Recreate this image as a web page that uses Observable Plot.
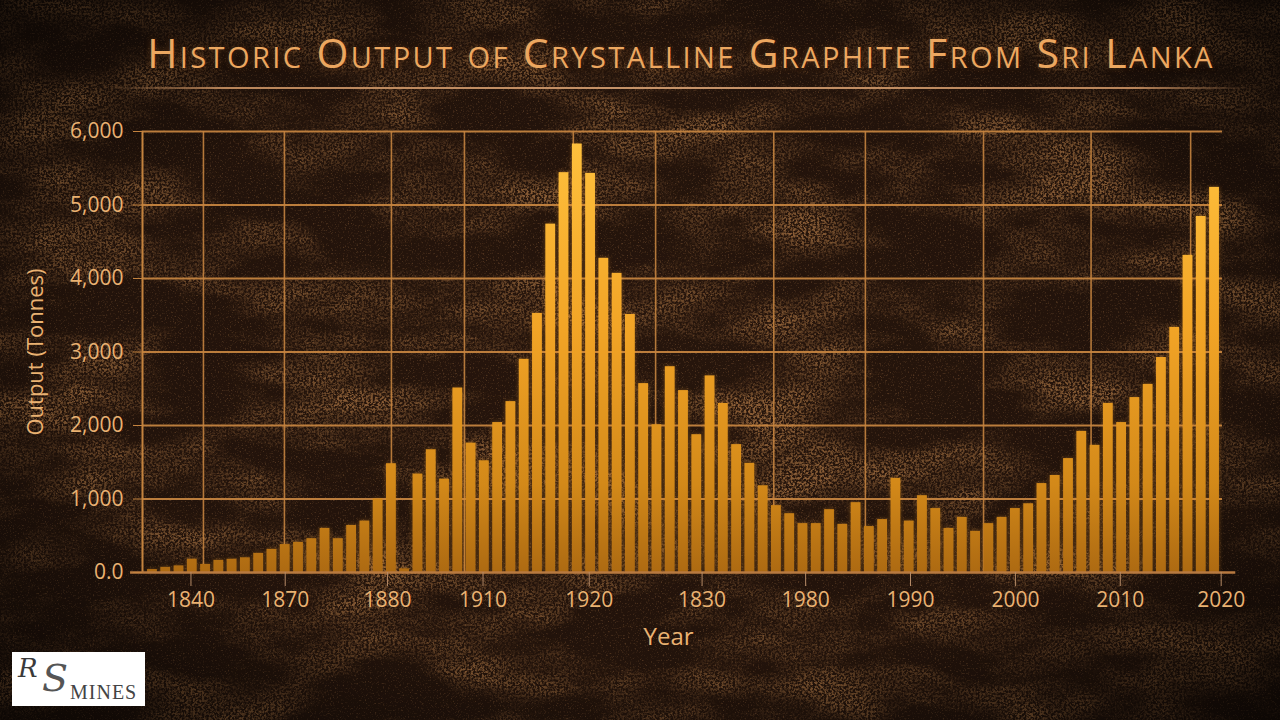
<!DOCTYPE html>
<html>
<head>
<meta charset="utf-8">
<script src="https://cdn.jsdelivr.net/npm/d3@7"></script>
<script src="https://cdn.jsdelivr.net/npm/@observablehq/plot@0.6"></script>
<style>
  html, body { margin: 0; padding: 0; background: #160d08; }
  #stage { position: relative; width: 1280px; height: 720px; overflow: hidden; background: #1f130c; }
  #bg { position: absolute; left: 0; top: 0; }
  #title {
    position: absolute; left: 60px; top: 24px; width: 1242px; text-align: center;
    font-family: "Open Sans", Lato, sans-serif; font-variant: small-caps; font-size: 41px;
    color: #eca760; letter-spacing: 2.4px; white-space: nowrap;
    text-shadow: 0 0 6px rgba(255,150,60,0.25);
  }
  #rule {
    position: absolute; left: 110px; top: 87px; width: 1140px; height: 2px;
    background: linear-gradient(90deg, rgba(176,122,74,0) 0%, #b9855a 10%, #c7946a 50%, #b9855a 90%, rgba(176,122,74,0) 100%);
  }
  #chart { position: absolute; left: 0; top: 100px; }
  #logo {
    position: absolute; left: 12px; top: 652px; width: 133px; height: 54px; background: #ffffff;
    font-family: "DejaVu Serif", "Liberation Serif", serif; color: #3a3a3a;
  }
  #logo .r { position: absolute; left: 6px; top: 1px; font-style: italic; font-size: 26px; line-height: 30px; }
  #logo .s { position: absolute; left: 30px; top: 4px; font-style: italic; font-size: 38px; line-height: 44px; color: #555; }
  #logo .m { position: absolute; left: 58px; top: 28px; font-family: "Liberation Serif", serif; font-size: 20px; line-height: 24px; letter-spacing: 1px; color: #444; }
</style>
</head>
<body>
<div id="stage">
  <svg id="bg" width="1280" height="720">
    <defs>
      <filter id="tex" x="0" y="0" width="100%" height="100%">
        <feTurbulence type="fractalNoise" baseFrequency="0.007 0.018" numOctaves="4" seed="7" result="low"/>
        <feColorMatrix in="low" type="matrix" values="0 0 0 0 0  0 0 0 0 0  0 0 0 0 0  3 0 0 0 -1.25" result="lowA"/>
        <feTurbulence type="fractalNoise" baseFrequency="0.45" numOctaves="3" seed="2" result="hi"/>
        <feColorMatrix in="hi" type="matrix" values="0 0 0 0 0.5  0 0 0 0 0.22  0 0 0 0 0.07  0 0 0 4 -1.6" result="hiC"/>
        <feComposite in="hiC" in2="lowA" operator="in"/>
      </filter>
      <filter id="speck" x="0" y="0" width="100%" height="100%">
        <feTurbulence type="fractalNoise" baseFrequency="0.6" numOctaves="2" seed="5"/>
        <feColorMatrix type="matrix" values="0 0 0 0 0.45  0 0 0 0 0.2  0 0 0 0 0.07  0 0 0 4 -2.3"/>
      </filter>
      <radialGradient id="vig" cx="50%" cy="50%" r="72%">
        <stop offset="0%" stop-color="#000" stop-opacity="0"/>
        <stop offset="60%" stop-color="#000" stop-opacity="0.12"/>
        <stop offset="100%" stop-color="#000" stop-opacity="0.7"/>
      </radialGradient>
    </defs>
    <rect width="1280" height="720" fill="#26150c"/>
    <rect width="1280" height="720" filter="url(#tex)" opacity="0.7"/>
    <rect width="1280" height="720" filter="url(#speck)" opacity="0.35"/>
    <rect width="1280" height="720" fill="url(#vig)"/>
  </svg>
  <div id="title">Historic Output of Crystalline Graphite From Sri Lanka</div>
  <div id="rule"></div>
  <div id="chart"></div>
  <div id="logo"><span class="r">R</span><span class="s">S</span><span class="m">MINES</span></div>
</div>
<script>
// Bar values (tonnes), read left to right from the picture
const barValues = [
  40, 70, 90, 180, 110, 165, 180, 200, 260, 315,
  380, 410, 460, 600, 460, 640, 700, 1000, 1480, 50,
  1340, 1670, 1270, 2510, 1760, 1520, 2040, 2325, 2900, 3525,
  4740, 5440, 5830, 5430, 4275, 4070, 3510, 2570, 2010, 2800,
  2475, 1875, 2675, 2300, 1740, 1485, 1180, 910, 800, 665,
  665, 855, 655, 950, 625, 720, 1280, 700, 1045, 870,
  600, 750, 560, 665, 750, 870, 935, 1210, 1320, 1550,
  1920, 1730, 2300, 2040, 2380, 2560, 2925, 3335, 4315, 4845,
  5240
];
const barIndex = barValues.map((_, k) => k + 1);

// X tick labels as printed, and where they sit along the bar sequence
const tickLabels = ["1840", "1870", "1880", "1910", "1920", "1830", "1980", "1990", "2000", "2010", "2020"];
const tickPositions = [3.9, 11, 18.7, 25.9, 33.9, 42.4, 50.2, 58.1, 66, 73.9, 81.5];
// Vertical grid lines along the bar sequence
const gridPositions = [4.84, 10.94, 19.0, 24.5, 32.7, 38.9, 47.8, 54.7, 63.6, 71.7, 79.2];
// Y ticks
const yTicks = [0, 1000, 2000, 3000, 4000, 5000, 6000];

const bars = barIndex.map((i, k) => ({ i, v: barValues[k] }));
const labelMap = new Map(tickPositions.map((p, k) => [p, tickLabels[k]]));

const gridColor = "#c4833f";
const textColor = "#eab272";
const xDomain = [0.25, 81.6];

const chart = Plot.plot({
  width: 1280,
  height: 620,
  marginLeft: 142,
  marginRight: 58,
  marginTop: 31,
  marginBottom: 148,
  style: { background: "transparent", fontFamily: "'Open Sans', Lato, sans-serif", color: textColor, overflow: "visible" },
  x: { type: "linear", domain: xDomain, axis: null },
  y: { domain: [0, 6000], axis: null },
  marks: [
    Plot.ruleY(yTicks.filter(d => d > 0), { stroke: gridColor, strokeWidth: 1.8, strokeOpacity: 0.95 }),
    Plot.ruleX(gridPositions, { y1: 0, y2: 6000, stroke: gridColor, strokeWidth: 1.6, strokeOpacity: 0.9 }),
    Plot.ruleX([xDomain[0]], { y1: 0, y2: 6000, stroke: gridColor, strokeWidth: 2 }),
    Plot.rectY(bars, { x1: d => d.i - 0.37, x2: d => d.i + 0.37, y: "v", fill: "url(#gold)" }),
    Plot.ruleY([0], { x1: -0.65, x2: 82.6, stroke: "#b87a40", strokeWidth: 2.5 }),
    Plot.axisY(yTicks, {
      tickSize: 9, tickPadding: 10, fontSize: 21, stroke: gridColor, fill: textColor,
      tickFormat: d => d === 0 ? "0.0" : d3.format(",")(d), label: null, letterSpacing: 2
    }),
    Plot.axisX(tickPositions, {
      tickSize: 14, tickPadding: 6, fontSize: 21, stroke: "#b58a66", fill: textColor,
      tickFormat: d => labelMap.get(d), label: null, letterSpacing: 1.5
    }),
    Plot.text(["Output (Tonnes)"], { frameAnchor: "left", dx: -107, rotate: -90, textAnchor: "middle", fontSize: 22, fill: textColor, letterSpacing: 0.5 }),
    Plot.text(["Year"], { frameAnchor: "bottom", dx: -14, dy: 72, fontSize: 24, fill: textColor })
  ]
});

d3.select(chart).insert("defs", ":first-child").html(`
  <linearGradient id="gold" gradientUnits="userSpaceOnUse" x1="0" y1="31" x2="0" y2="472">
    <stop offset="0" stop-color="#ffc23e"/>
    <stop offset="0.45" stop-color="#f2a426"/>
    <stop offset="0.8" stop-color="#d38919"/>
    <stop offset="1" stop-color="#ad6a12"/>
  </linearGradient>`);
d3.select(chart).selectAll("rect").style("filter", "drop-shadow(0 0 2px rgba(255,165,50,0.35))");

document.getElementById("chart").appendChild(chart);
</script>
</body>
</html>
